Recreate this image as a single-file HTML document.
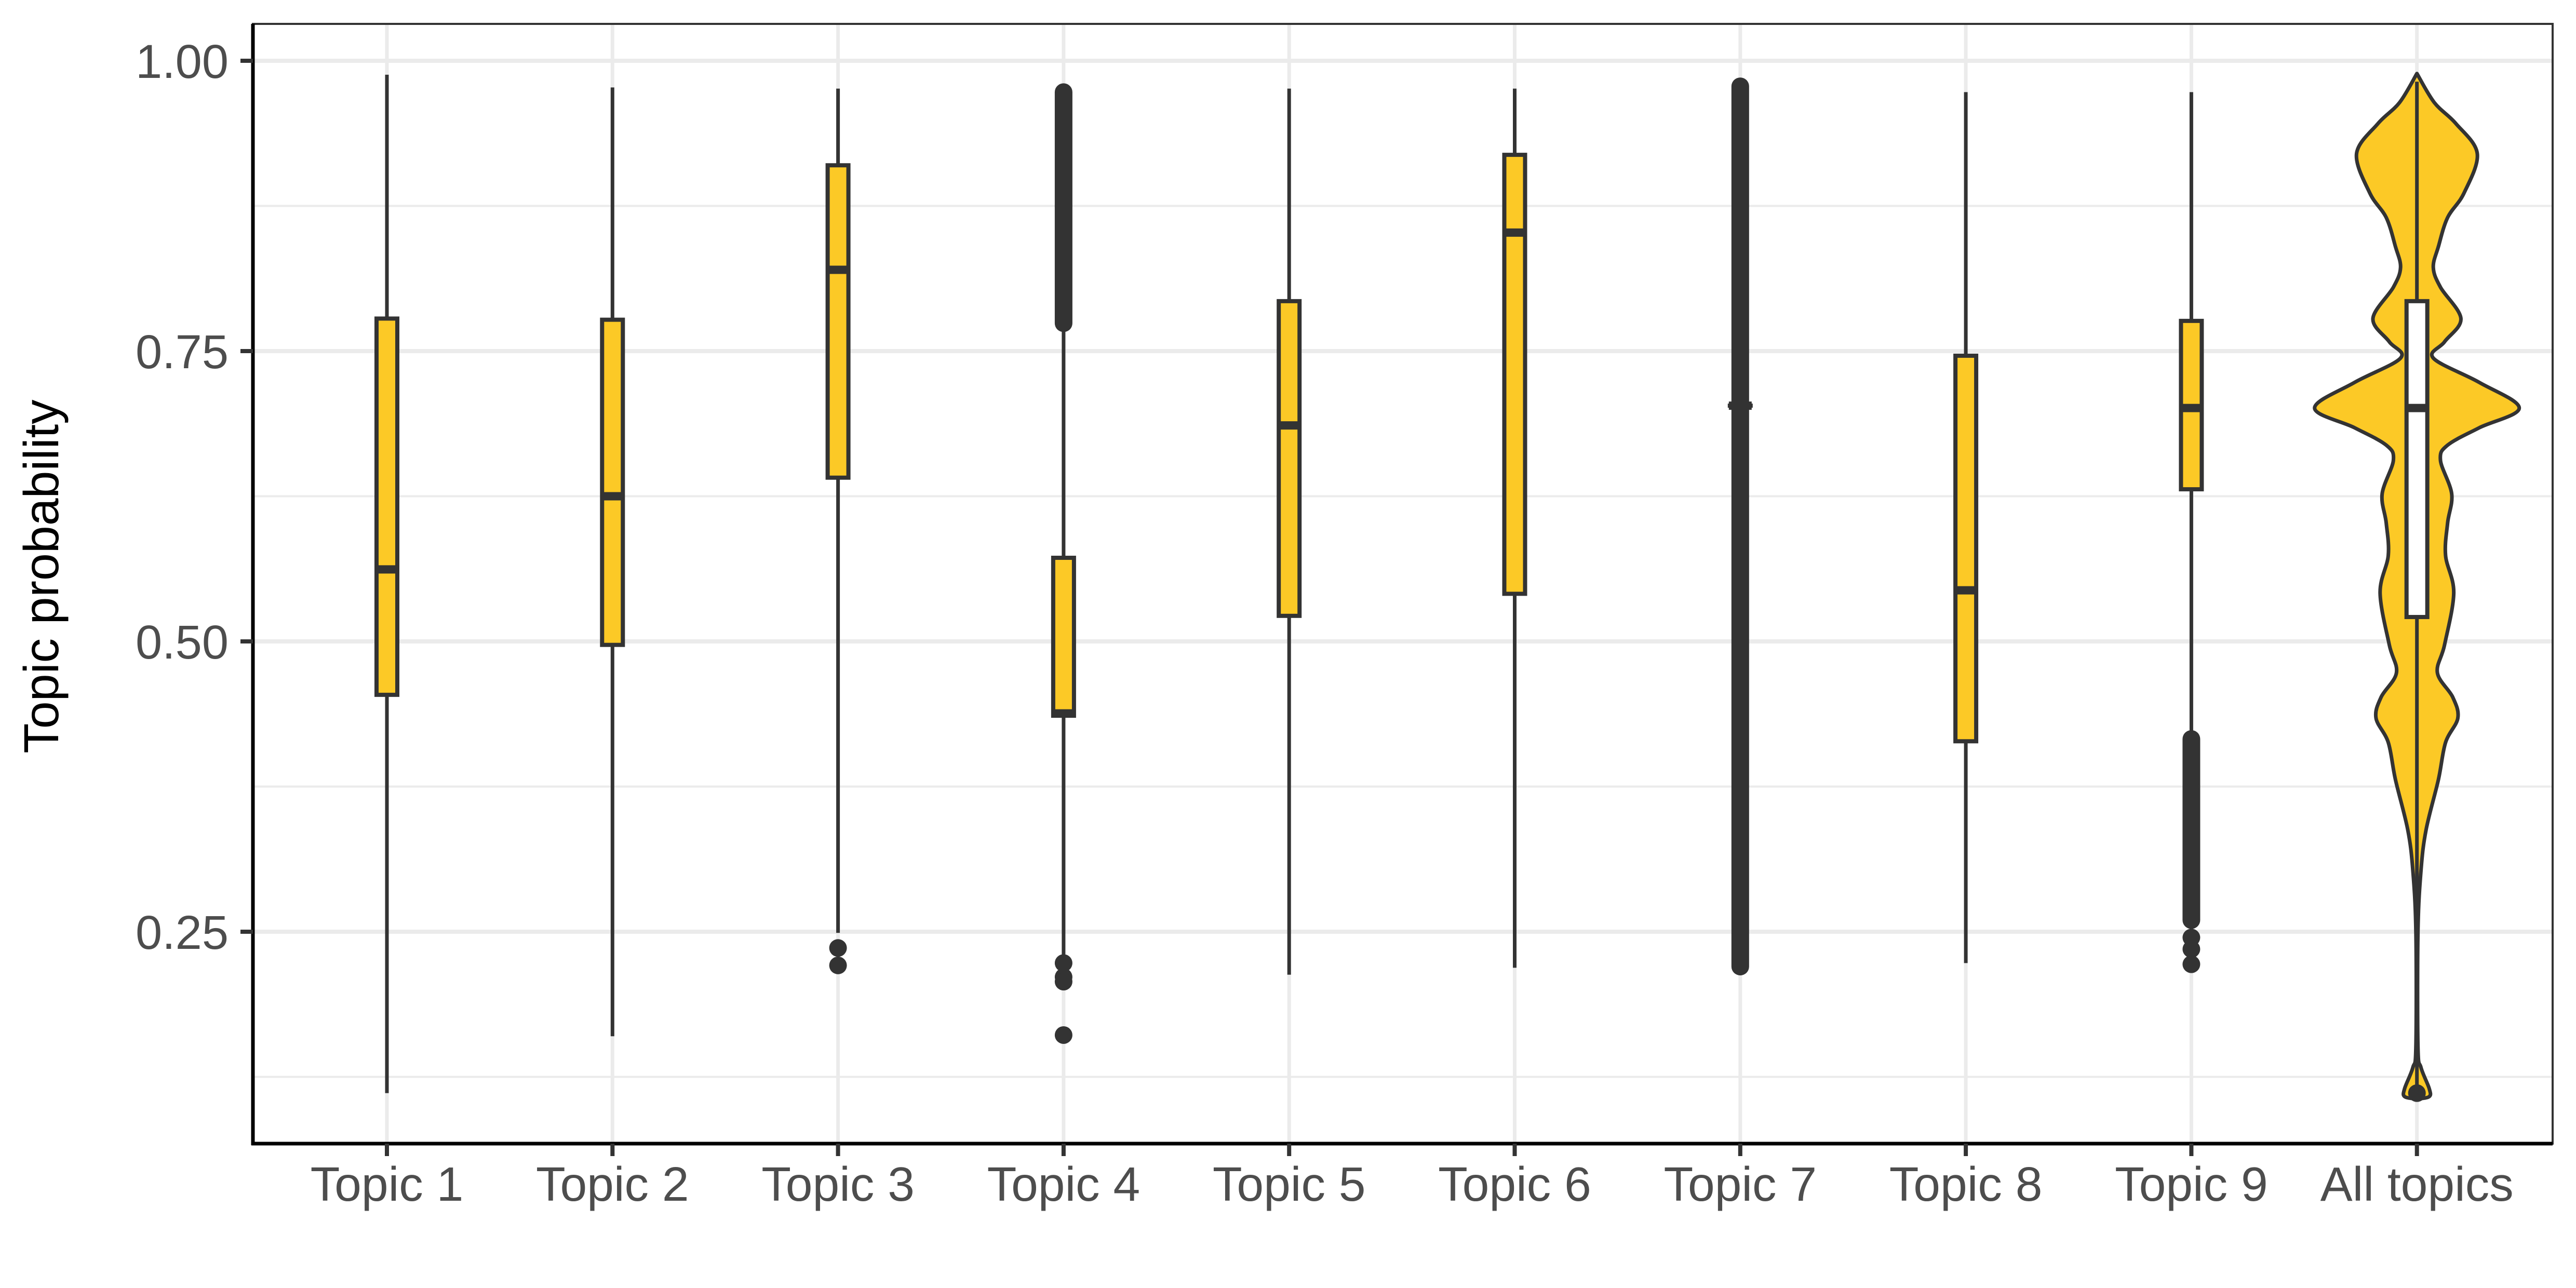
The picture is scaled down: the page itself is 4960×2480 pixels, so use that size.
<!DOCTYPE html>
<html><head><meta charset="utf-8"><style>
html,body{margin:0;padding:0;background:#fff;}
svg{display:block;}
text{font-family:"Liberation Sans",Arial,sans-serif;}
</style></head><body>
<svg id="chart" width="4960" height="2480" viewBox="0 0 4960 2480" xmlns="http://www.w3.org/2000/svg">
<rect x="0" y="0" width="4960" height="2480" fill="#fff"/>
<g id="grid"></g>
<g id="marks"></g>
<g id="axes"></g>
<text x="0" y="0" transform="translate(112,1110) rotate(-90)" text-anchor="middle" font-size="95" fill="#000">Topic probability</text>
</svg>
<script>
const categories = ["Topic 1","Topic 2","Topic 3","Topic 4","Topic 5","Topic 6","Topic 7","Topic 8","Topic 9","All topics"];
const whiskerLow  = [0.111,0.160,0.249,0.229,0.213,0.219,0.703,0.223,0.418,0.115];
const q1          = [0.454,0.497,0.641,0.436,0.522,0.541,0.703,0.414,0.631,0.521];
const medians     = [0.562,0.625,0.820,0.438,0.686,0.852,0.703,0.544,0.701,0.701];
const q3          = [0.778,0.777,0.910,0.572,0.793,0.919,0.703,0.746,0.776,0.793];
const whiskerHigh = [0.988,0.977,0.976,0.774,0.976,0.976,0.703,0.973,0.973,0.982];
const outlierCat  = [2,2,3,3,3,3,8,8,8,9];
const outlierVal  = [0.236,0.221,0.223,0.211,0.207,0.161,0.245,0.235,0.222,0.111];
const denseCat    = [3,6,8];
const denseFrom   = [0.774,0.220,0.260];
const denseTo     = [0.973,0.978,0.416];
const violinV = [0.989,0.964,0.946,0.920,0.886,0.865,0.840,0.822,0.805,0.778,0.758,0.744,0.723,0.701,0.684,0.669,0.656,0.627,0.602,0.574,0.542,0.497,0.473,0.452,0.434,0.413,0.381,0.338,0.303,0.250,0.151,0.133,0.115,0.108,0.106];
const violinDensity = [0,0.17,0.38,0.59,0.46,0.30,0.21,0.16,0.23,0.43,0.27,0.16,0.61,1.0,0.61,0.30,0.23,0.34,0.30,0.28,0.36,0.27,0.20,0.35,0.40,0.28,0.21,0.09,0.04,0.01,0.01,0.04,0.12,0.12,0];
const yTicks = [0.25,0.50,0.75,1.00];
const yTickLabels = ["0.25","0.50","0.75","1.00"];
const yMinor = [0.125,0.375,0.625,0.875];

const NS="http://www.w3.org/2000/svg";
const PL=487, PR=4915, PT=46, PB=2202;
const xs = i => 745 + i*434.3;
const ys = v => 117 + (1-v)*2236;
const VIOLIN_MAX=197, BOXW=40, PTR=17;
function mk(tag, parent, attrs){const e=document.createElementNS(NS,tag);for(const k in attrs)e.setAttribute(k,attrs[k]);parent.appendChild(e);return e;}
const grid=document.getElementById('grid'), marks=document.getElementById('marks'), axes=document.getElementById('axes');

yMinor.forEach(v=>{const l=mk('line',grid,{x1:PL,x2:PR,y1:ys(v),y2:ys(v),stroke:'#EBEBEB','stroke-width':4});

});
yTicks.forEach(v=>{const l=mk('line',grid,{x1:PL,x2:PR,y1:ys(v),y2:ys(v),stroke:'#EBEBEB','stroke-width':8});

});
categories.forEach((c,i)=>{const l=mk('line',grid,{x1:xs(i),x2:xs(i),y1:PT,y2:PB,stroke:'#EBEBEB','stroke-width':7});

});

(function(){
  const i=categories.length-1, cx=xs(i);
  const right=violinV.map((v,k)=>[cx+violinDensity[k]*VIOLIN_MAX, ys(v)]);
  const left=violinV.map((v,k)=>[cx-violinDensity[k]*VIOLIN_MAX, ys(v)]).reverse();
  const pts=right.concat(left);
  function spline(p){let d='M'+p[0][0]+','+p[0][1];
    for(let k=0;k<p.length-1;k++){const p0=p[Math.max(k-1,0)],p1=p[k],p2=p[k+1],p3=p[Math.min(k+2,p.length-1)];
      const c1=[p1[0]+(p2[0]-p0[0])/6,p1[1]+(p2[1]-p0[1])/6],c2=[p2[0]-(p3[0]-p1[0])/6,p2[1]-(p3[1]-p1[1])/6];
      d+=' C'+c1[0]+','+c1[1]+' '+c2[0]+','+c2[1]+' '+p2[0]+','+p2[1];}
    return d+'Z';}
  const v=mk('path',marks,{d:spline(pts),fill:'#FCC926',stroke:'#333','stroke-width':7,'stroke-linejoin':'round'});
  
  
})();

categories.forEach((c,i)=>{
  const cx=xs(i), last=(i===categories.length-1);
  const w=mk('line',marks,{x1:cx,x2:cx,y1:ys(whiskerHigh[i]),y2:ys(whiskerLow[i]),stroke:'#333','stroke-width':7});
  
  
  const b=mk('rect',marks,{x:cx-BOXW/2,y:ys(q3[i]),width:BOXW,height:Math.max(ys(q1[i])-ys(q3[i]),0.01),fill:last?'#fff':'#FCC926',stroke:'#333','stroke-width':8});
  
  
  const m=mk('line',marks,{x1:cx-BOXW/2-2,x2:cx+BOXW/2+2,y1:ys(medians[i]),y2:ys(medians[i]),stroke:'#333','stroke-width':16});
  
  
});
denseCat.forEach((ci,k)=>{
  const r=mk('rect',marks,{x:xs(ci)-PTR,y:ys(denseTo[k])-PTR,width:2*PTR,height:ys(denseFrom[k])-ys(denseTo[k])+2*PTR,rx:PTR,ry:PTR,fill:'#333'});
  
  
});
outlierCat.forEach((ci,k)=>{
  const p=mk('circle',marks,{cx:xs(ci),cy:ys(outlierVal[k]),r:PTR,fill:'#333'});
  
  
});

const frame=mk('rect',axes,{x:PL,y:PT,width:PR-PL,height:PB-PT,fill:'none',stroke:'#333','stroke-width':4});


const ya=mk('line',axes,{x1:PL,x2:PL,y1:PT,y2:PB+3,stroke:'#000','stroke-width':7});


const xa=mk('line',axes,{x1:PL-3,x2:PR,y1:PB,y2:PB,stroke:'#000','stroke-width':7});


yTicks.forEach((v,k)=>{
  const t=mk('line',axes,{x1:PL-24,x2:PL,y1:ys(v),y2:ys(v),stroke:'#333','stroke-width':8});
  
  
  const tx=mk('text',axes,{x:440,y:ys(v)+33,'text-anchor':'end','font-size':92,fill:'#4D4D4D'});
  tx.textContent=yTickLabels[k];
  
  
});
categories.forEach((c,i)=>{
  const t=mk('line',axes,{x1:xs(i),x2:xs(i),y1:PB,y2:PB+24,stroke:'#333','stroke-width':8});
  
  
  const tx=mk('text',axes,{x:xs(i),y:2312,'text-anchor':'middle','font-size':93,fill:'#4D4D4D'});
  tx.textContent=c;
  
  
});
</script>
</body></html>
